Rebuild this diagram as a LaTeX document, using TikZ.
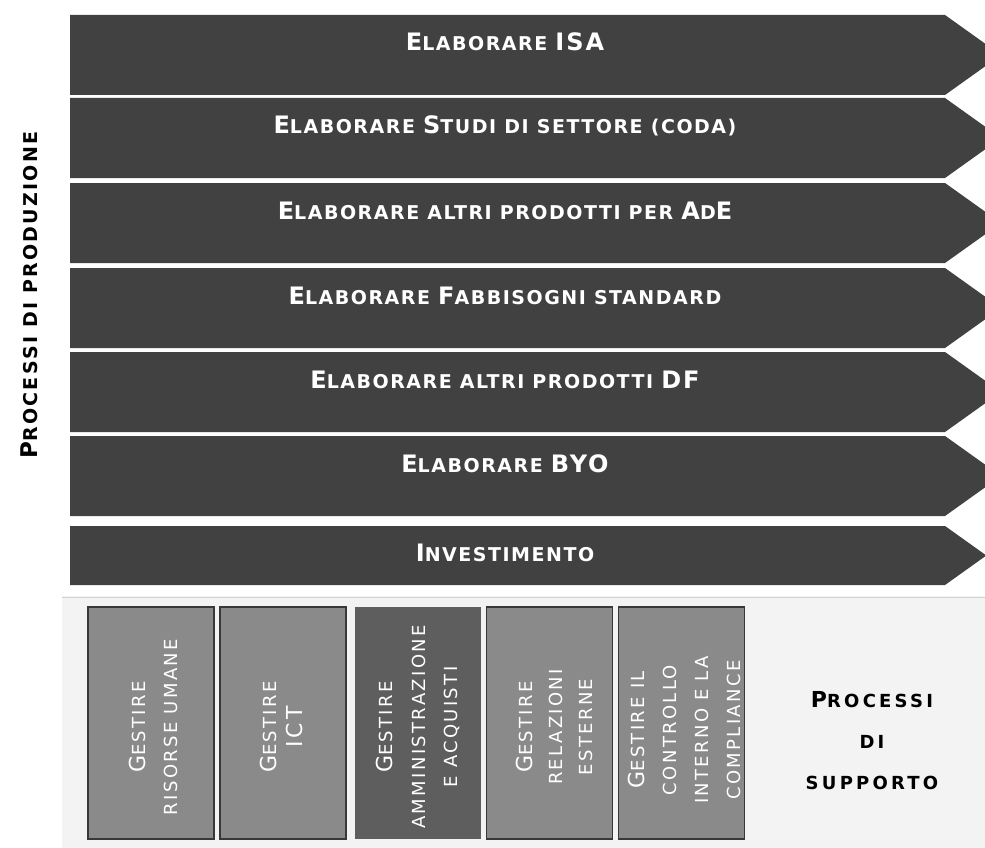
\documentclass[tikz,border=0pt]{standalone}
\usepackage{fontspec}
\setmainfont{DejaVu Sans}
\newfontfamily\bandfont{DejaVu Sans}[LetterSpace=8]
\newfontfamily\sidefont{DejaVu Sans}[LetterSpace=12]
\newfontfamily\rightfont{DejaVu Sans}[LetterSpace=18]
\newfontfamily\boxfont{DejaVu Sans}[LetterSpace=13]
\newcommand\Bg[2]{{\fontsize{#1}{#1}\selectfont #2}}
\definecolor{bandgray}{HTML}{414141}
\definecolor{boxgray}{HTML}{8A8A8A}
\definecolor{boxdark}{HTML}{5E5E5E}
\definecolor{boxline}{HTML}{383838}
\definecolor{supportbg}{HTML}{F3F3F3}
\newcommand\band[3]{% top, bottom, name
  \fill[bandgray] (70,#1) -- (945,#1) -- ({945+0.7*(#2-#1)},{(#1+#2)/2}) -- (945,#2) -- (70,#2) -- cycle;
  \coordinate (#3) at (505,{#1+36});
}
\tikzset{
  bandtext/.style={text=white, font=\bandfont\bfseries\fontsize{19}{19}\selectfont, inner sep=0pt, anchor=base},
  sbox/.style={draw=boxline, line width=1.6pt, fill=boxgray, minimum width=126pt, minimum height=232pt, inner sep=0pt},
  sboxdark/.style={sbox, draw=none, fill=boxdark},
  boxtext/.style={text=white, rotate=90, align=center, inner sep=0pt},
  sidelabel/.style={text=black, inner sep=0pt}
}
\begin{document}
\begin{tikzpicture}[x=1pt,y=-1pt]
\useasboundingbox (0,0) rectangle (985,848);
\clip (0,0) rectangle (985,848);
\fill[white] (0,0) rectangle (985,848);
\fill[supportbg] (62,596) rectangle (985,848);
\draw[gray!35, line width=1pt] (62,597) -- (985,597);
% production bands
\band{15}{95}{b1}
\band{98}{178}{b2}
\band{183}{263}{b3}
\band{268}{348}{b4}
\band{352}{432}{b5}
\band{436}{516}{b6}
\band{526}{585}{b7}
\node[bandtext] (t1) at (b1) {\Bg{24}{E}LABORARE \Bg{24}{ISA}};
\node[bandtext] (t2) at (b2) {\Bg{24}{E}LABORARE \Bg{24}{S}TUDI DI SETTORE (CODA)};
\node[bandtext] (t3) at (b3) {\Bg{24}{E}LABORARE ALTRI PRODOTTI PER \Bg{24}{A}D\Bg{24}{E}};
\node[bandtext] (t4) at (b4) {\Bg{24}{E}LABORARE \Bg{24}{F}ABBISOGNI STANDARD};
\node[bandtext] (t5) at (b5) {\Bg{24}{E}LABORARE ALTRI PRODOTTI \Bg{24}{DF}};
\node[bandtext] (t6) at (b6) {\Bg{24}{E}LABORARE \Bg{24}{BYO}};
\node[bandtext] (t7) at (505,561) {\Bg{24}{I}NVESTIMENTO};
% support boxes
\node[sbox] (s1) at (151,723) {};
\node[sbox] (s2) at (283,723) {};
\node[sboxdark] (s3) at (417.5,723) {};
\node[sbox] (s4) at (549.5,723) {};
\node[sbox] (s5) at (681.5,723) {};
\node[boxtext, font=\boxfont\fontsize{18}{32}\selectfont] (l1) at (153,727) {\Bg{22}{G}ESTIRE\\RISORSE UMANE};
\node[boxtext, font=\boxfont\fontsize{18}{26}\selectfont] (l2) at (281,727) {\Bg{22}{G}ESTIRE\\\Bg{22}{ICT}};
\node[boxtext, font=\boxfont\fontsize{18}{32.5}\selectfont] (l3) at (418,727) {\Bg{22}{G}ESTIRE\\AMMINISTRAZIONE\\E ACQUISTI};
\node[boxtext, font=\boxfont\fontsize{18}{30}\selectfont] (l4) at (554,727) {\Bg{22}{G}ESTIRE\\RELAZIONI\\ESTERNE};
\node[boxtext, font=\boxfont\fontsize{18}{32}\selectfont] (l5) at (684,730) {\Bg{22}{G}ESTIRE IL\\CONTROLLO\\INTERNO E LA\\COMPLIANCE};
% side labels
\node[sidelabel, rotate=90, font=\sidefont\bfseries\fontsize{19}{19}\selectfont] (prod) at (29,295) {\Bg{23}{P}ROCESSI DI PRODUZIONE};
\node[sidelabel, align=center, font=\rightfont\bfseries\fontsize{18}{41}\selectfont] (supp) at (872,741) {\Bg{22}{P}ROCESSI\\DI\\SUPPORTO};
\end{tikzpicture}
\end{document}
